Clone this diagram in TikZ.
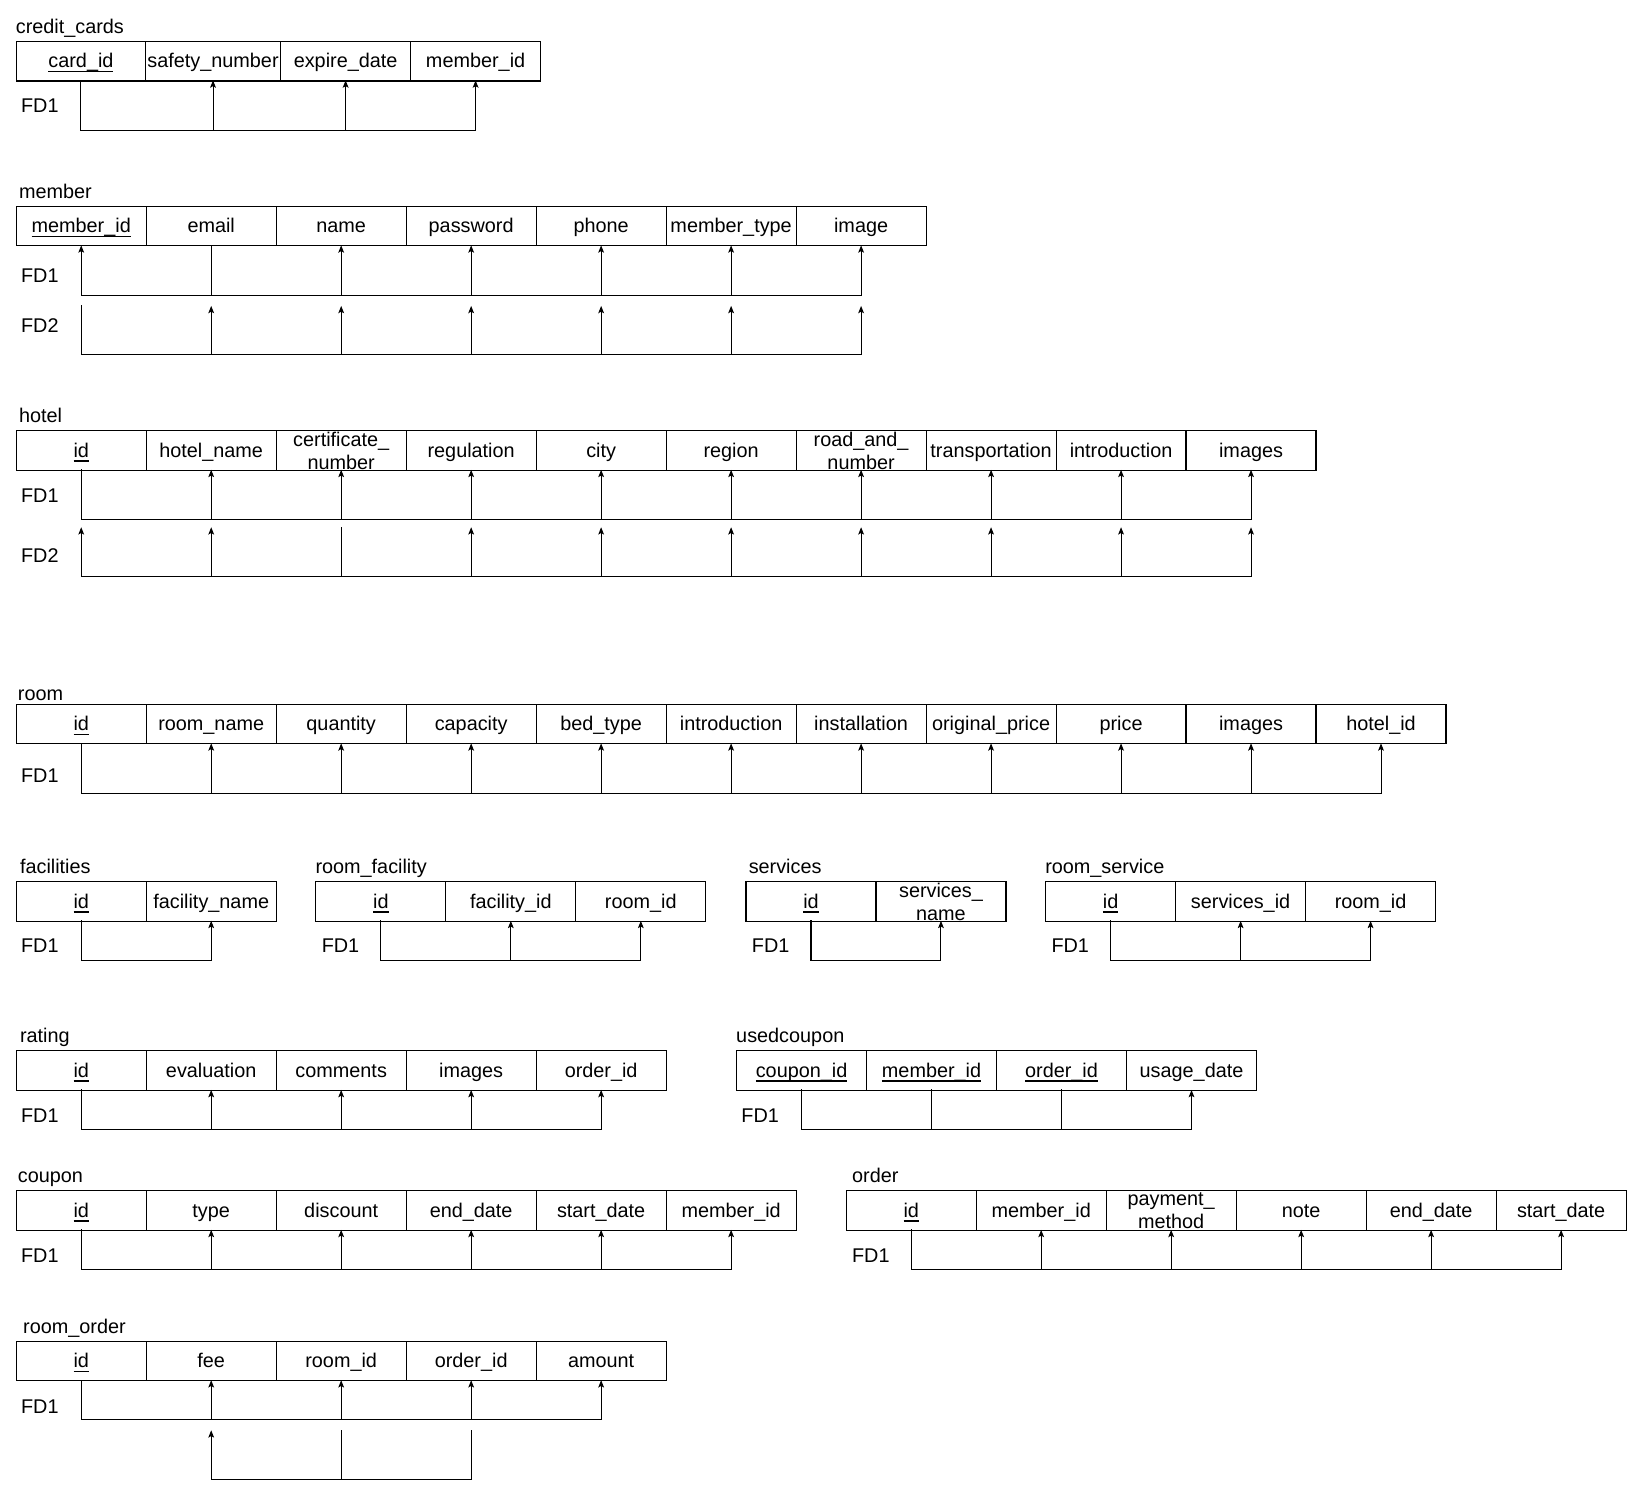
\documentclass[tikz,border=0pt]{standalone}
\usepackage{fontspec}
\setmainfont{Liberation Sans}
\usetikzlibrary{arrows.meta}
\newsavebox\keybox
\newcommand{\keyul}[1]{\sbox\keybox{#1}\rlap{\rule[-4pt]{\wd\keybox}{1.3pt}}\usebox\keybox}
\newcommand{\tabfont}{\fontsize{19}{22}\selectfont}
\tikzset{
  tabcell/.style={draw, line width=1.1pt, minimum width=124.5pt, minimum height=38pt, inner sep=0pt, text height=15pt, text depth=2pt, anchor=north west, font=\tabfont},
  celltext/.style={inner sep=0pt, align=center, font=\tabfont},
  tabtitle/.style={anchor=base west, inner sep=0pt, font=\tabfont},
  fdlabel/.style={anchor=west, inner sep=0pt, font=\tabfont},
  fdline/.style={draw, line width=1pt, line cap=rect},
  fdarrow/.style={draw, line width=1pt, -{Stealth[length=7pt,width=5.5pt,inset=1.5pt]}},
}
% uniform table row: prefix, x0, top y, list of cell texts
\newcommand{\tabrow}[4]{%
  \foreach \celltxt [count=\i] in {#4} \node[tabcell] (#1\i) at ({#2+(\i-1)*124.5},#3) {\celltxt};%
}
% FD row: prefix, tag, top y, bottom y, plain cols, arrow cols, first col, last col
\newcommand{\fdrow}[8]{%
  \coordinate (#1#2top) at (0,#3);
  \coordinate (#1#2bot) at (0,#4);
  \foreach \k in {#5,#6} {
    \coordinate (#1#2t\k) at (#1\k.south |- #1#2top);
    \coordinate (#1#2b\k) at (#1\k.south |- #1#2bot);
  }
  \foreach \k in {#5} \draw[fdline] (#1#2t\k) -- (#1#2b\k);
  \foreach \k in {#6} \draw[fdarrow] (#1#2b\k) -- (#1#2t\k);
  \draw[fdline] (#1#2b#7) -- (#1#2b#8);
}
\begin{document}
\begin{tikzpicture}[x=1pt,y=-1pt]
\useasboundingbox (0,0) rectangle (1568,1436);

% ---------- credit_cards ----------
\node[tabtitle] (cctitle) at (15,32) {credit\_cards};
\node[tabcell, minimum width=124pt] (cc1) at (15,39) {\keyul{card\_id}};
\node[tabcell, minimum width=129pt] (cc2) at (139,39) {safety\_number};
\node[tabcell, minimum width=125pt] (cc3) at (268,39) {expire\_date};
\node[tabcell, minimum width=124pt] (cc4) at (393,39) {member\_id};
\node[fdlabel] (ccfd1) at (20,101) {FD1};
\fdrow{cc}{A}{77}{125}{1}{2,3,4}{1}{4}

% ---------- member ----------
\node[tabtitle] (mtitle) at (18,190) {member};
\tabrow{m}{15}{197}{\keyul{member\_id},email,name,password,phone,member\_type,image}
\node[fdlabel] (mfd1) at (20,264) {FD1};
\node[fdlabel] (mfd2) at (20,312) {FD2};
\fdrow{m}{A}{235}{283}{2}{1,3,4,5,6,7}{1}{7}
\fdrow{m}{B}{293}{340}{1}{2,3,4,5,6,7}{1}{7}

% ---------- hotel ----------
\node[tabtitle] (htitle) at (18,405) {hotel};
\tabrow{h}{15}{412}{\keyul{id},hotel\_name,{},regulation,city,region,{},transportation,introduction,images}
\node[celltext] (h3t) at (h3.center) {certificate\_\\number};
\node[celltext] (h7t) at (h7.center) {road\_and\_\\number};
\node[fdlabel] (hfd1) at (20,475) {FD1};
\node[fdlabel] (hfd2) at (20,532) {FD2};
\fdrow{h}{A}{450}{498}{1}{2,3,4,5,6,7,8,9,10}{1}{10}
\fdrow{h}{B}{505}{552}{3}{1,2,4,5,6,7,8,9,10}{1}{10}

% ---------- room ----------
\node[tabtitle] (rtitle) at (17,671) {room};
\tabrow{r}{15}{674}{\keyul{id},room\_name,quantity,capacity,bed\_type,introduction,installation,original\_price,price,images,hotel\_id}
\node[fdlabel] (rfd1) at (20,743) {FD1};
\fdrow{r}{A}{712}{760}{1}{2,3,4,5,6,7,8,9,10,11}{1}{11}

% ---------- facilities ----------
\node[tabtitle] (fatitle) at (19,837) {facilities};
\tabrow{fa}{15}{844}{\keyul{id},facility\_name}
\node[fdlabel] (fafd1) at (20,906) {FD1};
\fdrow{fa}{A}{882}{920}{1}{2}{1}{2}

% ---------- room_facility ----------
\node[tabtitle] (rftitle) at (302,837) {room\_facility};
\tabrow{rf}{302}{844}{\keyul{id},facility\_id,room\_id}
\node[fdlabel] (rffd1) at (308,906) {FD1};
\fdrow{rf}{A}{882}{920}{1}{2,3}{1}{3}

% ---------- services ----------
\node[tabtitle] (svtitle) at (717,837) {services};
\tabrow{sv}{714}{844}{\keyul{id},{}}
\node[celltext] (sv2t) at (sv2.center) {services\_\\name};
\node[fdlabel] (svfd1) at (720,906) {FD1};
\fdrow{sv}{A}{882}{920}{1}{2}{1}{2}

% ---------- room_service ----------
\node[tabtitle] (rstitle) at (1001,837) {room\_service};
\tabrow{rs}{1001}{844}{\keyul{id},services\_id,room\_id}
\node[fdlabel] (rsfd1) at (1007,906) {FD1};
\fdrow{rs}{A}{882}{920}{1}{2,3}{1}{3}

% ---------- rating ----------
\node[tabtitle] (ratitle) at (19,999) {rating};
\tabrow{ra}{15}{1006}{\keyul{id},evaluation,comments,images,order\_id}
\node[fdlabel] (rafd1) at (20,1069) {FD1};
\fdrow{ra}{A}{1044}{1082}{1}{2,3,4,5}{1}{5}

% ---------- usedcoupon ----------
\node[tabtitle] (uctitle) at (705,999) {usedcoupon};
\tabrow{uc}{705}{1006}{\keyul{coupon\_id},\keyul{member\_id},\keyul{order\_id},usage\_date}
\node[fdlabel] (ucfd1) at (710,1069) {FD1};
\fdrow{uc}{A}{1044}{1082}{1,2,3}{4}{1}{4}

% ---------- coupon ----------
\node[tabtitle] (cptitle) at (17,1133) {coupon};
\tabrow{cp}{15}{1140}{\keyul{id},type,discount,end\_date,start\_date,member\_id}
\node[fdlabel] (cpfd1) at (20,1203) {FD1};
\fdrow{cp}{A}{1178}{1216}{1}{2,3,4,5,6}{1}{6}

% ---------- order ----------
\node[tabtitle] (odtitle) at (816,1133) {order};
\tabrow{od}{810}{1140}{\keyul{id},member\_id,{},note,end\_date,start\_date}
\node[celltext] (od3t) at (od3.center) {payment\_\\method};
\node[fdlabel] (odfd1) at (816,1203) {FD1};
\fdrow{od}{A}{1178}{1216}{1}{2,3,4,5,6}{1}{6}

% ---------- room_order ----------
\node[tabtitle] (rotitle) at (22,1277) {room\_order};
\tabrow{ro}{15}{1284}{\keyul{id},fee,room\_id,order\_id,amount}
\node[fdlabel] (rofd1) at (20,1347) {FD1};
\fdrow{ro}{A}{1322}{1360}{1}{2,3,4,5}{1}{5}
\fdrow{ro}{B}{1370}{1417}{3,4}{2}{2}{4}
\end{tikzpicture}
\end{document}
